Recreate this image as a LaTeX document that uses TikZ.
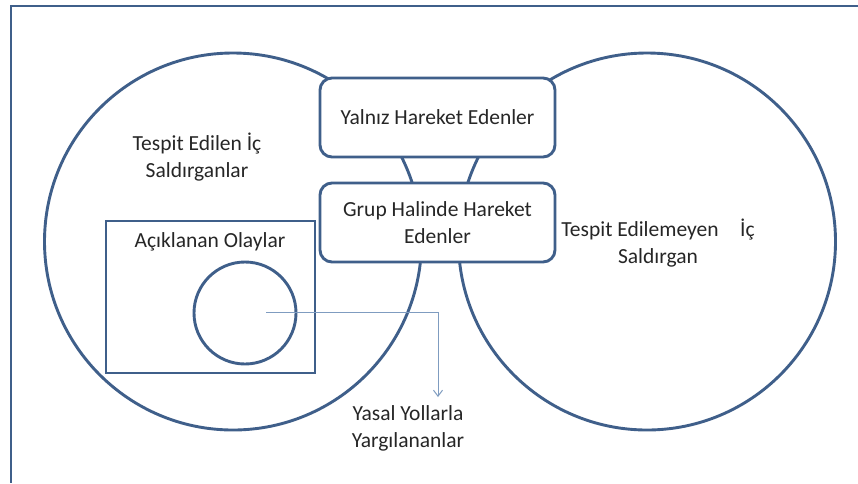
\documentclass[tikz,border=0pt]{standalone}
\usepackage{fontspec}
\setmainfont{Carlito}
\usetikzlibrary{arrows.meta}
\definecolor{dblue}{HTML}{3F5F8A}
\definecolor{lblue}{HTML}{7F9CC0}
\definecolor{txt}{HTML}{262626}
\begin{document}
\begin{tikzpicture}[x=1pt,y=-1pt,
  shapeline/.style={draw=dblue,line width=2.9pt},
  rbox/.style={shapeline,fill=white,rounded corners=12pt,minimum width=235pt,minimum height=79pt,inner sep=0pt},
  lbl/.style={text=txt,font=\fontsize{21.5}{27}\selectfont,align=center,inner sep=0pt}]
\useasboundingbox (0,0) rectangle (858,483);
\fill[white] (0,0) rectangle (858,483);
% frame (top and left sides visible)
\coordinate (ftr) at (858,6);
\coordinate (ftl) at (11,6);
\coordinate (fbl) at (11,483);
\draw[dblue,line width=2.6pt] (ftr) -- (ftl) -- (fbl);
% big circles
\node[shapeline,circle,minimum size=377pt,inner sep=0pt] (lc) at (233,241.5) {};
\node[shapeline,circle,minimum size=377pt,inner sep=0pt] (rc) at (647,241.5) {};
% boxes
\node[rbox] (yal) at (437.5,117.5) {};
\node[lbl] at (yal.center) {Yalnız Hareket Edenler};
\node[rbox] (grp) at (437.5,222.5) {};
\node[lbl] at (grp.center) {Grup Halinde Hareket\\Edenler};
% inner rectangle
\node[shapeline,minimum width=209pt,minimum height=152pt,inner sep=0pt] (acik) at (210.5,297) {};
\node[lbl] (acikt) at (210,242) {Açıklanan Olaylar};
% small circle
\node[shapeline,circle,minimum size=102pt,inner sep=0pt] (sc) at (245,313) {};
% labels
\node[lbl] (tes) at (197,157) {Tespit Edilen İç\\Saldırganlar};
\node[lbl] (tesn) at (658,243) {Tespit Edilemeyen\hspace{1.0em}İç\\Saldırgan};
\node[lbl] (yas) at (408,428) {Yasal Yollarla\\Yargılananlar};
% arrow
\coordinate (as) at (266,312);
\coordinate (ac) at (438,312);
\coordinate (ae) at (438,397);
\draw[lblue,line width=1pt,-{Straight Barb[length=6pt,width=9pt]}] (as) -- (ac) -- (ae);
\end{tikzpicture}
\end{document}
